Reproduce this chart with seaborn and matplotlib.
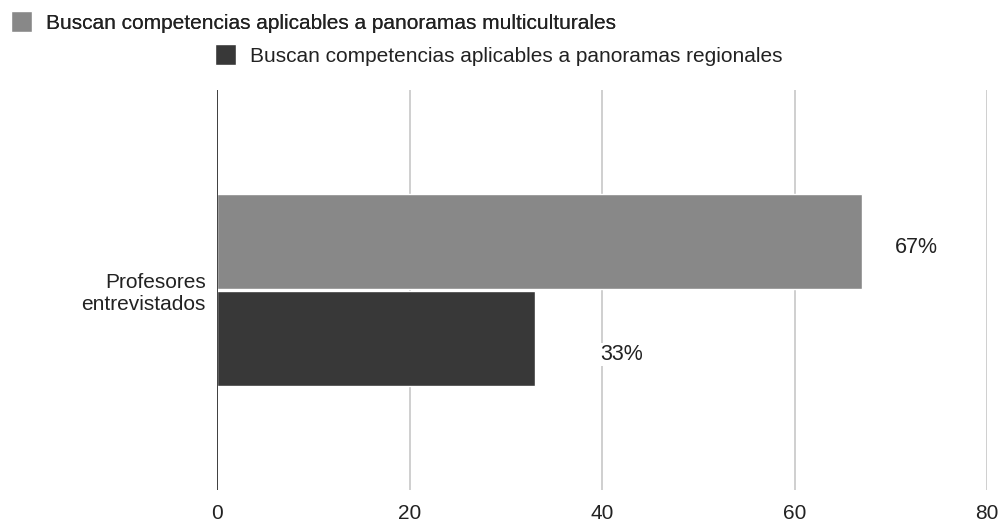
import pandas as pd
import seaborn as sns
import matplotlib.pyplot as plt

# Data
category = ["Profesores\nentrevistados"]
series = ["Buscan competencias aplicables a panoramas multiculturales",
          "Buscan competencias aplicables a panoramas regionales"]
values = [67, 33]
labels = ["67%", "33%"]
colors = ["#888888", "#383838"]

df = pd.DataFrame({"grupo": category * len(series), "serie": series, "valor": values})

sns.set_style("white")
plt.rcParams['font.family'] = ['Liberation Sans', 'DejaVu Sans']

fig = plt.figure(figsize=(10.02, 5.24), dpi=100)
ax = fig.add_axes([217 / 1002, 1 - 490 / 524, (987 - 217) / 1002, 400 / 524])

sns.barplot(data=df, x="valor", y="grupo", hue="serie", palette=colors,
            width=0.485, gap=0.03, orient="h", ax=ax, legend=True, saturation=1)

ax.set_xlim(0, 80)
ax.set_ylim(0.5, -0.5)
ax.set_xticks([0, 20, 40, 60, 80])
ax.tick_params(axis='x', labelsize=15, length=0, pad=10, colors='#222222')
ax.tick_params(axis='y', labelsize=15, length=0, pad=8, colors='#222222')
ax.set_xlabel("")
ax.set_ylabel("")
ax.grid(axis='x', color='#cccccc', linewidth=1.3)
ax.set_axisbelow(True)
for s in ax.spines.values():
    s.set_visible(False)
ax.axvline(0, color='#333333', linewidth=1.3, zorder=3)

# value labels
offsets = [(33, -6), (66, -16)]
for bars, lab, off in zip(ax.containers, labels, offsets):
    b = bars[0]
    ax.annotate(lab, (b.get_width(), b.get_y() + b.get_height() / 2),
                xytext=off, textcoords='offset pixels', ha='left', va='center',
                fontsize=15.5, color='#222222',
                bbox=dict(facecolor='white', edgecolor='none', pad=1))

# legend in two rows
handles, names = ax.get_legend_handles_labels()
ax.get_legend().remove()
leg_kw = dict(loc='center left', frameon=False, fontsize=15, handlelength=1.0,
              handleheight=1.18, handletextpad=0.67, borderpad=0, borderaxespad=0,
              labelcolor='#222222')
leg1 = fig.legend([handles[0]], [names[0]], bbox_to_anchor=(11 / 1002, 1 - 22 / 524), **leg_kw)
leg2 = fig.legend([handles[1]], [names[1]], bbox_to_anchor=(215 / 1002, 1 - 55 / 524), **leg_kw)
fig.add_artist(leg1)

fig.savefig("out.png", dpi=100)
